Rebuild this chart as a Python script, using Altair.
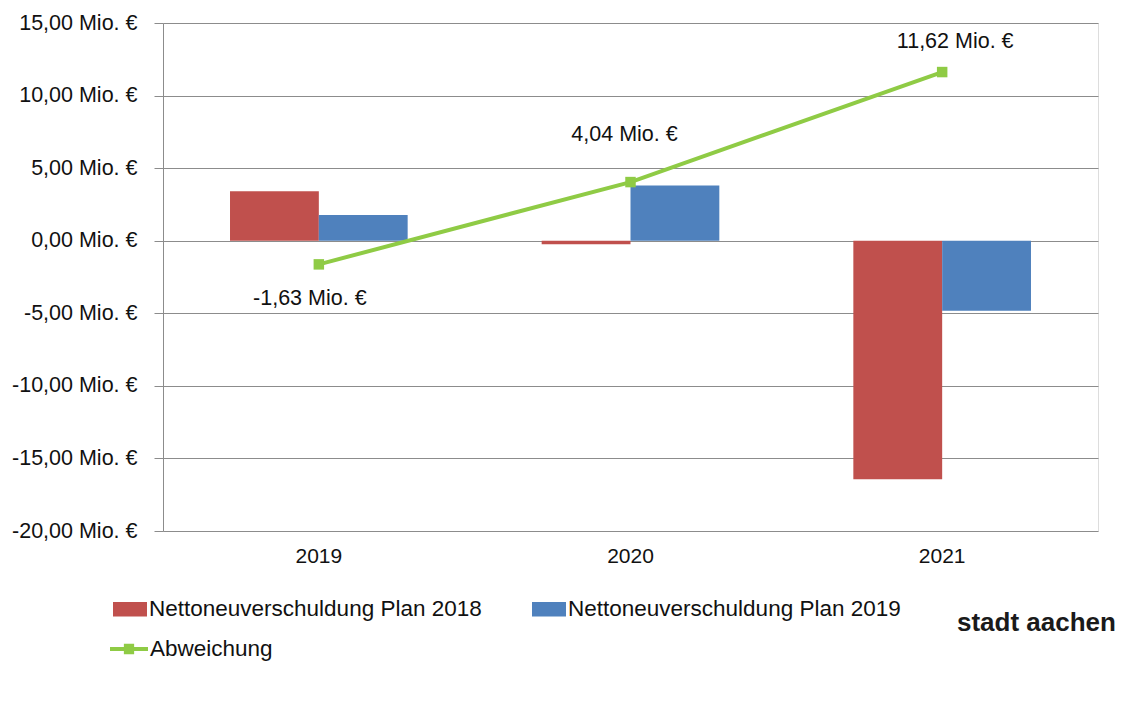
import altair as alt
import pandas as pd

years = ["2019", "2020", "2021"]
plan_2018 = [3.40, -0.24, -16.44]
plan_2019 = [1.77, 3.80, -4.82]
abweichung = [-1.63, 4.04, 11.62]
series_names = ["Nettoneuverschuldung Plan 2018", "Nettoneuverschuldung Plan 2019"]
line_name = "Abweichung"
y_ticks = [-20, -15, -10, -5, 0, 5, 10, 15]

RED = "#C0504D"
BLUE = "#4F81BD"
GREEN = "#8FCB45"
GRID = "#8C8C8C"
FONT = "Liberation Sans"


def fmt(v):
    s = f"{abs(v):.2f}".replace(".", ",")
    return ("-" if v < 0 else "") + s + " Mio. €"


bars_df = pd.DataFrame({
    "Jahr": years * 2,
    "Reihe": [series_names[0]] * 3 + [series_names[1]] * 3,
    "Wert": plan_2018 + plan_2019,
})
line_df = pd.DataFrame({
    "Jahr": years,
    "Linie": [line_name] * 3,
    "Wert": abweichung,
    "Label": [fmt(v) for v in abweichung],
})

x_enc = alt.X("Jahr:N", scale=alt.Scale(domain=years, paddingInner=0.43, paddingOuter=0.215),
              axis=alt.Axis(title=None, labelAngle=0, labelFontSize=21, labelPadding=14,
                            ticks=False, domain=False, grid=False, labelColor="#111",
                            labelFont=FONT))
y_enc = alt.Y("Wert:Q", scale=alt.Scale(domain=[-20, 15], nice=False, zero=False),
              axis=alt.Axis(title=None, values=y_ticks, tickSize=9, tickColor=GRID,
                            labelPadding=17, labelFontSize=21.5, labelColor="#111", labelFont=FONT,
                            domainColor=GRID, gridColor=GRID, gridWidth=1.2,
                            labelExpr="(datum.value < 0 ? '-' : '') + replace(format(abs(datum.value), '.2f'), '.', ',') + ' Mio. €'"))

bars = alt.Chart(bars_df).mark_bar().encode(
    x=x_enc,
    xOffset=alt.XOffset("Reihe:N", scale=alt.Scale(domain=series_names, paddingInner=0, paddingOuter=0)),
    y=y_enc,
    fill=alt.Fill("Reihe:N", scale=alt.Scale(domain=series_names, range=[RED, BLUE]),
                  legend=alt.Legend(title=None, orient="none", legendX=-50, legendY=569,
                                    columns=2, columnPadding=50, direction="horizontal",
                                    symbolType="M-1,-0.42L1,-0.42L1,0.42L-1,0.42Z",
                                    symbolSize=1156, symbolStrokeWidth=0, labelOffset=2,
                                    labelFontSize=22.5, labelFont=FONT, labelColor="#111",
                                    labelLimit=500)),
)

line = alt.Chart(line_df).mark_line(strokeWidth=4).encode(
    x=alt.X("Jahr:N"),
    y=alt.Y("Wert:Q"),
    stroke=alt.Stroke("Linie:N", scale=alt.Scale(domain=[line_name], range=[GREEN]),
                      legend=alt.Legend(title=None, orient="none", legendX=-53, legendY=607,
                                        symbolType="M-1,-0.1L-0.27,-0.1L-0.27,-0.27L0.27,-0.27L0.27,-0.1L1,-0.1L1,0.1L0.27,0.1L0.27,0.27L-0.27,0.27L-0.27,0.1L-1,0.1Z",
                                        symbolSize=1444, symbolStrokeWidth=0,
                                        symbolFillColor=GREEN, labelOffset=2,
                                        labelFontSize=22.5, labelFont=FONT, labelColor="#111")),
)

points = alt.Chart(line_df).mark_point(shape="square", filled=True, size=110, color=GREEN, opacity=1).encode(
    x=alt.X("Jahr:N"),
    y=alt.Y("Wert:Q"),
)

label_offsets = {"2019": (-9, 35), "2020": (-6, -47), "2021": (13, -30)}
labels = []
for yr, (ddx, ddy) in label_offsets.items():
    labels.append(
        alt.Chart(line_df).transform_filter(alt.datum.Jahr == yr)
        .mark_text(fontSize=21.5, font=FONT, color="#111", dx=ddx, dy=ddy, baseline="middle")
        .encode(x=alt.X("Jahr:N"), y=alt.Y("Wert:Q"), text="Label:N")
    )

logo = alt.Chart(pd.DataFrame({"t": ["stadt aachen"]})).mark_text(
    fontSize=26, font=FONT, fontWeight="bold", color="#1a1a1a", align="left", baseline="alphabetic"
).encode(x=alt.value(794), y=alt.value(608), text="t:N")

chart = alt.layer(bars, line, points, *labels, logo).resolve_scale(
    fill="independent", stroke="independent"
).properties(
    width=935, height=508,
    padding={"left": 155, "top": 15, "right": 35, "bottom": 180},
    autosize=alt.AutoSizeParams(type="none"),
).configure_view(stroke=None).configure(background="white")

chart.save("out.html", embed_options={"renderer": "svg", "actions": False})
